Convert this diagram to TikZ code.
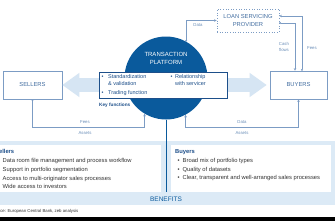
\documentclass[tikz,border=0pt]{standalone}
\usepackage{fontspec}
\setmainfont{Liberation Sans}
\usetikzlibrary{arrows.meta,positioning,calc}
\definecolor{deep}{HTML}{0A5A9C}
\definecolor{ink}{HTML}{1D4F8A}
\definecolor{wire}{HTML}{7C9CC4}
\definecolor{pale}{HTML}{D6E5F3}
\definecolor{panelbg}{HTML}{DCEAF6}
\definecolor{grey}{HTML}{333333}
\begin{document}
\begin{tikzpicture}[x=1pt,y=-1pt,
 box/.style={draw=wire,line width=.6pt,fill=white,align=center,inner sep=0pt,font=\fontsize{5.8}{7.8}\selectfont,text=ink!60!wire},
 lnk/.style={draw=wire,line width=.6pt},
 lab/.style={font=\fontsize{4.3}{5.2}\selectfont,text=wire!80!ink,inner sep=0pt,align=center},
 big/.style={line width=14pt,draw=pale,-{Triangle[length=17pt,width=23pt]}},
 kft/.style={font=\fontsize{5.5}{6.7}\selectfont,text=ink,align=left,inner sep=0pt,anchor=north west},
 lst/.style={font=\fontsize{5.8}{8.7}\selectfont,text=grey,align=left,inner sep=0pt,anchor=north west},
 panel/.style={fill=white,minimum height=47pt,inner sep=0pt}
]
\useasboundingbox (0,0) rectangle (335,220);
\clip (0,0) rectangle (335,220);
\fill[white] (0,0) rectangle (335,220);
% platform and parties
\node[circle,fill=deep,minimum size=83pt,inner sep=0pt] (tp) at (166,78) {};
\node[text=white,align=center,inner sep=0pt,font=\fontsize{6}{7.2}\selectfont] (tpt) at (166,58.5) {TRANSACTION\\PLATFORM};
\node[box,minimum width=59pt,minimum height=28pt] (sel) at (32.5,85) {SELLERS};
\node[box,minimum width=57pt,minimum height=28pt] (buy) at (298.5,85) {BUYERS};
\node[box,dotted,minimum width=62pt,minimum height=23pt] (lsp) at (248,20.5) {LOAN SERVICING\\PROVIDER};
\draw[big] (163-64,85) -- (sel.east);
\draw[big,shorten >=3pt] (163+64,85) -- (buy.west);
\node[draw=ink,line width=.6pt,fill=white,minimum width=128pt,minimum height=26pt,inner sep=0pt] (kf) at (163,85) {};
\node[kft] (kl) at (101.5,74.3) {\textbullet\hspace{4.5pt}Standardization\\\phantom{\textbullet}\hspace{4.5pt}\& validation\\[2.3pt]\textbullet\hspace{4.5pt}Trading function};
\node[kft] (kr) at (170.5,74.3) {\textbullet\hspace{2.5pt}Relationship\\\phantom{\textbullet}\hspace{2.5pt}with servicer};
\node[font=\bfseries\fontsize{4.7}{5}\selectfont,text=ink,anchor=west,inner sep=0pt] (kfl) at (99,105.5) {Key functions};
% flows
\draw[lnk,{Circle[length=1.8pt]}-{Stealth[length=2.6pt,width=2.6pt]}] (tp.61) |- (lsp.west);
\node[lab] (dt) at (198,25) {Data};
\draw[lnk,{Circle[length=1.8pt]}-{Stealth[length=2.6pt,width=2.6pt]}] ([xshift=3.5pt]buy.north) |- ([yshift=4.5pt]lsp.east);
\draw[lnk,{Circle[length=1.8pt]}-{Stealth[length=2.6pt,width=2.6pt]}] ([yshift=-2.5pt]lsp.east) -| ([xshift=-3.5pt]buy.north);
\node[lab] (cf) at (284,47) {Cash\\flows};
\node[lab] (fb) at (312,48) {Fees};
\draw[lnk,{Circle[length=1.8pt]}-{Stealth[length=2.6pt,width=2.6pt]}] (sel.south) -- ++(0,28) -| (tp.239);
\node[lab] (fs) at (85,122) {Fees};
\node[lab] (as) at (85,133) {Assets};
\draw[lnk,{Stealth[length=2.6pt,width=2.6pt]}-{Stealth[length=2.6pt,width=2.6pt]}] (tp.298) |- ([yshift=-28pt]buy.south) -- (buy.south);
\node[lab] (db) at (242,122) {Data};
\node[lab] (ab) at (242,133) {Assets};
% benefits
\fill[panelbg] (-5,141) rectangle (340,205);
\node[panel,minimum width=166pt] (ps) at (78,168.5) {};
\node[panel,minimum width=160pt] (pb) at (251,168.5) {};
\node[font=\fontsize{6.5}{7}\selectfont,text=deep,inner sep=0pt] (ben) at (166,199) {BENEFITS};
\draw[deep,line width=.8pt] (tp.south) -- (tp.south |- ps.south);
\node[lst] (sl) at (-5,149.5) {\textbf{\textcolor{ink}{Sellers}}\\
 \hspace*{2.5pt}\textbullet\hspace{3pt}Data room file management and process workflow\\
 \hspace*{2.5pt}\textbullet\hspace{3pt}Support in portfolio segmentation\\
 \hspace*{2.5pt}\textbullet\hspace{3pt}Access to multi-originator sales processes\\
 \hspace*{2.5pt}\textbullet\hspace{3pt}Wide access to investors};
\node[lst] (bl) at (175,149.5) {\textbf{\textcolor{ink}{Buyers}}\\
 \hspace*{2.5pt}\textbullet\hspace{3pt}Broad mix of portfolio types\\
 \hspace*{2.5pt}\textbullet\hspace{3pt}Quality of datasets\\
 \hspace*{2.5pt}\textbullet\hspace{3pt}Clear, transparent and well-arranged sales processes};
\node[lab,text=grey,anchor=west] (src) at (-9,211) {Source: European Central Bank, zeb analysis};
\fill[black] (-5,217) rectangle (340,222);
\end{tikzpicture}
\end{document}
